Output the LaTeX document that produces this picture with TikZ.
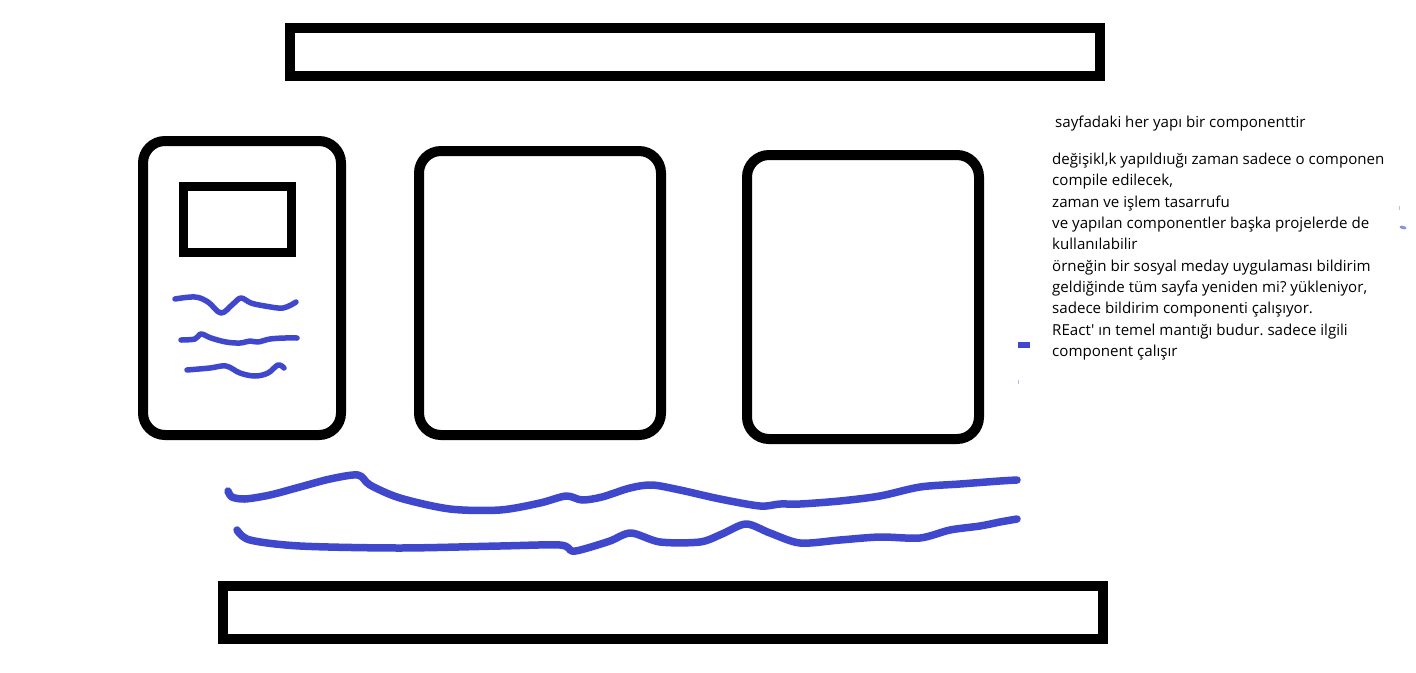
\documentclass[tikz,border=0pt]{standalone}
\usepackage{fontspec}
\setmainfont{Open Sans}
\newfontfamily\notefont{Open Sans}
\frenchspacing
\definecolor{pen}{HTML}{3F48CC}
\definecolor{faint}{HTML}{B8BCEA}
\begin{document}
\begin{tikzpicture}[x=1pt,y=-1pt,
  frame/.style={draw=black,line width=10pt,inner sep=0pt},
  card/.style={frame,rounded corners=22pt},
  ink/.style={draw=pen,line width=5.5pt,line cap=round,line join=round},
  bigink/.style={draw=pen,line width=7.5pt,line cap=round,line join=round},
  note/.style={anchor=north west,inner sep=0pt,align=left,font=\notefont\fontsize{15.1}{21.3}\selectfont}]
\useasboundingbox (0,0) rectangle (1416,672);
\fill[white] (0,0) rectangle (1416,672);
% bars
\node[frame,minimum width=810pt,minimum height=48pt] (top) at (695,52) {};
\node[frame,minimum width=880pt,minimum height=53pt] (bottom) at (663,612.5) {};
% cards
\node[card,minimum width=198pt,minimum height=294pt] (left) at (242,288) {};
\node[frame,line width=9pt,minimum width=108pt,minimum height=66pt] (img) at (237,219) {};
\node[card,minimum width=242pt,minimum height=284pt] (mid) at (540,293) {};
\node[card,minimum width=232pt,minimum height=284pt] (right) at (863,297) {};
% squiggles in left card
\draw[ink] plot[smooth,tension=0.6] coordinates {(175,299) (195,297) (208,302) (221,313) (233,304) (241,298) (251,303) (265,306) (283,308) (296,302)};
\draw[ink] plot[smooth,tension=0.6] coordinates {(181,340) (195,339) (201,334) (211,338) (226,342) (240,343) (250,341) (258,342) (270,339) (285,338) (297,338)};
\draw[ink] plot[smooth,tension=0.6] coordinates {(187,370) (210,368) (226,366) (240,373) (255,376) (268,373) (278,365) (284,368)};
% big squiggles
\draw[bigink] plot[smooth,tension=0.5] coordinates {(228,491) (232,497) (245,499) (270,495) (300,487) (330,479) (358,475) (370,485) (400,498) (450,509) (500,510) (540,503) (566,496) (582,500) (602,497) (630,488) (652,485) (680,490) (720,499) (760,506) (780,504) (800,504) (840,501) (880,496) (920,487) (960,484) (1000,481) (1017,480)};
\draw[bigink] plot[smooth,tension=0.5] coordinates {(237,530) (250,540) (300,546) (400,548) (500,546) (560,545) (572,551) (584,549) (610,541) (631,533) (660,542) (700,542) (722,534) (746,524) (770,533) (800,543) (840,540) (880,537) (920,538) (950,530) (980,526) (1000,522) (1017,519)};
% small marks
\draw[ink,line cap=butt,line width=6pt] (1018,345) -- (1030,345);
\draw[faint,line width=1pt] (1018,380) -- (1018,384);
\draw[faint,line width=1pt] (1399,206) -- (1399,210);
\draw[draw=pen!60,line width=3pt,line cap=round] (1401,227) -- (1405,228);
% text
\node[note] (t1) at (1055,116) {sayfadaki her yapı bir componenttir};
\node[note] (t2) at (1052,153) {değişikl,k yapıldıuğı zaman sadece o componen\\
compile edilecek,\\
zaman ve işlem tasarrufu\\
ve yapılan componentler başka projelerde de\\
kullanılabilir\\
örneğin bir sosyal meday uygulaması bildirim\\
geldiğinde tüm sayfa yeniden mi? yükleniyor,\\
sadece bildirim componenti çalışıyor.\\
REact' ın temel mantığı budur. sadece ilgili\\
component çalışır};
\end{tikzpicture}
\end{document}
